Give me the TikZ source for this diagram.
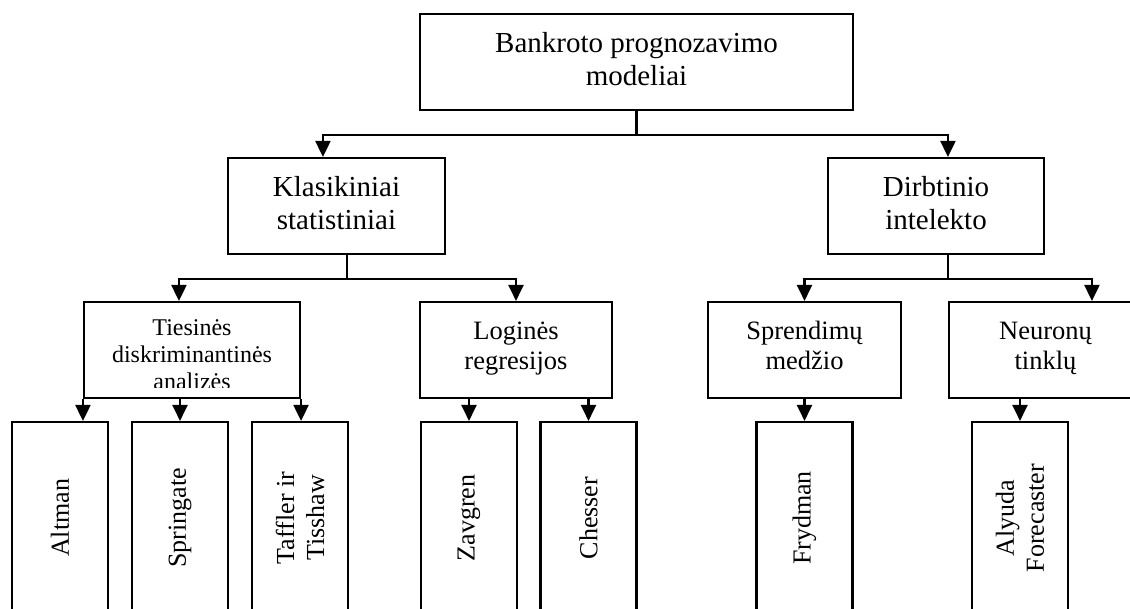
\documentclass[tikz,border=0pt]{standalone}
\usepackage{fontspec}
\setmainfont{Liberation Serif}
\usetikzlibrary{arrows.meta,calc}

\tikzset{
  blk/.style={draw, line width=2.1pt, inner sep=0pt, align=center, minimum height=96pt},
  lvA/.style={blk, font=\fontsize{29}{33}\selectfont},
  lvB/.style={blk, font=\fontsize{26.5}{30}\selectfont},
  leaf/.style={draw, line width=2.1pt, inner sep=0pt, align=center, rotate=90,
               minimum width=192pt, minimum height=96pt, font=\fontsize{26}{30}\selectfont},
  wire/.style={line width=2.1pt},
  arr/.style={line width=2.1pt, -{Triangle[length=16pt,width=15pt]}},
}
% extra depth on the last line of a two-line caption
\newcommand{\lowdp}{\rule[-12pt]{0pt}{0pt}}

\begin{document}
\begin{tikzpicture}[x=1pt,y=-1pt]
\useasboundingbox (0,0) rectangle (1130,609);
\clip (0,0) rectangle (1130,609);

% level 1
\node[lvA, minimum width=433pt] (root) at (636.5,62) {\strut Bankroto prognozavimo\\modeliai\strut};

% level 2
\node[lvA, minimum width=217pt] (klas) at (336.5,206) {\strut Klasikiniai\\statistiniai\strut};
\node[lvA, minimum width=216pt] (dirb) at (936,206) {\strut Dirbtinio\\intelekto\strut};

% level 3
\node[blk, minimum width=216pt, path picture={
    \clip (path picture bounding box.north west) rectangle ($(path picture bounding box.south east)+(0,-10)$);
    \node[anchor=north, inner sep=0pt, outer sep=0pt, minimum width=0pt, minimum height=0pt,
          align=center, font=\fontsize{24}{27}\selectfont]
      at ($(path picture bounding box.north)+(0,18)$) {Tiesinės\\diskriminantinės\\analizės};
  }] (ties) at (192,350) {};
\node[lvB, minimum width=192pt] (logi) at (516,350) {\strut Loginės\\regresijos\lowdp};
\node[lvB, minimum width=193pt] (spre) at (804.5,350) {\strut Sprendimų\\medžio\lowdp};
\node[lvB, minimum width=193pt] (neur) at (1045.5,350) {\strut Neuronų\\tinklų\lowdp};

% level 4 (rotated leaves, running past the lower edge)
\node[leaf] (altm) at (60,518) {Altman};
\node[leaf] (spri) at (180,518) {Springate};
\node[leaf] (taff) at (300,518) {Taffler ir\\Tisshaw};
\node[leaf] (zavg) at (469,518) {Zavgren};
\node[leaf] (ches) at (588.5,518) {Chesser};
\node[leaf] (fryd) at (804.5,518) {Frydman};
\node[leaf] (alyu) at (1020,518) {Alyuda\\Forecaster};

% root -> level 2
\coordinate (rj) at ($(root.south)+(0,24)$);
\draw[wire] (root.south) -- (rj);
\draw[arr] (rj) -| ($(klas.north west)+(96,0)$);
\draw[arr] (rj) -| ($(dirb.north west)+(121,0)$);

% classical statistics -> level 3
\coordinate (kj) at ($(klas.south west)+(120,24)$);
\draw[wire] (klas.south west -| kj) -- (kj);
\draw[arr] (kj) -| ($(ties.north west)+(96,0)$);
\draw[arr] (kj) -| (logi.north);

% artificial intelligence -> level 3
\coordinate (dj) at ($(dirb.south west)+(121,24)$);
\draw[wire] (dirb.south west -| dj) -- (dj);
\draw[arr] (dj) -| (spre.north);
\draw[arr] (dj) -| ($(neur.north west)+(144,0)$);

% level 3 -> leaves
\draw[arr] (ties.south west) -- (ties.south west |- altm.east);
\draw[arr] (spri.east |- ties.south) -- (spri.east);
\draw[arr] (ties.south east) -- (ties.south east |- taff.east);
\draw[arr] (zavg.east |- logi.south) -- (zavg.east);
\draw[arr] (ches.east |- logi.south) -- (ches.east);
\draw[arr] (fryd.east |- spre.south) -- (fryd.east);
\draw[arr] (alyu.east |- neur.south) -- (alyu.east);
\end{tikzpicture}
\end{document}
